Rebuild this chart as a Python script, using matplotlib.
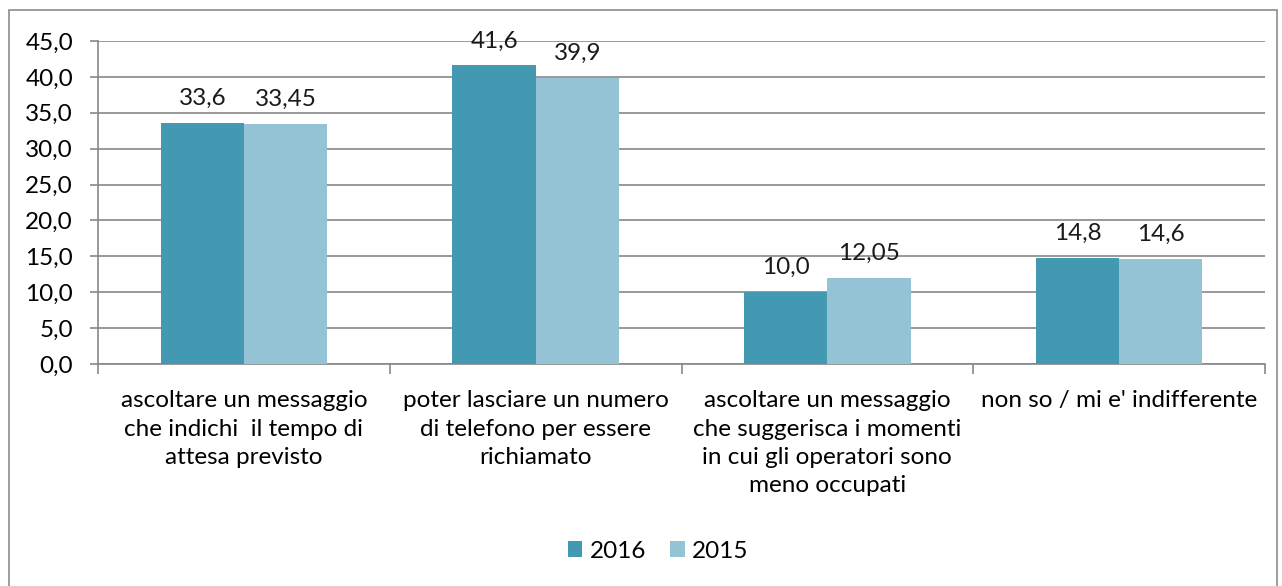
import matplotlib.pyplot as plt
import numpy as np
from matplotlib.patches import Rectangle

categories = ["ascoltare un messaggio\nche indichi  il tempo di\nattesa previsto",
              "poter lasciare un numero\ndi telefono per essere\nrichiamato",
              "ascoltare un messaggio\nche suggerisca i momenti\nin cui gli operatori sono\nmeno occupati",
              "non so / mi e' indifferente"]
values_2016 = [33.6, 41.6, 10.0, 14.8]
values_2015 = [33.45, 39.9, 12.05, 14.6]
labels_2016 = ["33,6", "41,6", "10,0", "14,8"]
labels_2015 = ["33,45", "39,9", "12,05", "14,6"]
yticks = np.arange(0, 50, 5)

plt.rcParams['font.family'] = ['Lato', 'DejaVu Sans']
fs = 17.5
c16 = '#4399B1'
c15 = '#93C3D5'
grid_c = '#878787'

fig = plt.figure(figsize=(12.82, 5.86), dpi=100)
fig.patches.append(Rectangle((9/1282, -0.01), 1268/1282, 1 - 10/586 + 0.01,
                             transform=fig.transFigure, fill=False,
                             edgecolor='#8c8c8c', linewidth=1.2))
ax = fig.add_axes([98/1282, 1 - 364/586, 1167/1282, 323/586])

x = np.arange(len(categories))
w = 0.285
b1 = ax.bar(x - w/2, values_2016, w, color=c16, label='2016', zorder=3)
b2 = ax.bar(x + w/2, values_2015, w, color=c15, label='2015', zorder=3)

for bars, labs in ((b1, labels_2016), (b2, labels_2015)):
    for r, t in zip(bars, labs):
        ax.annotate(t, (r.get_x() + r.get_width()/2, r.get_height()),
                    xytext=(0, 10), textcoords='offset points',
                    ha='center', va='bottom', fontsize=fs, color='#1a1a1a')

ax.set_ylim(0, 45)
ax.set_xlim(-0.5, len(categories) - 0.5)
ax.set_yticks(yticks)
ax.set_yticklabels([f"{v:.1f}".replace('.', ',') for v in yticks], fontsize=fs)
ax.yaxis.grid(True, color=grid_c, linewidth=1.2, zorder=0)
ax.tick_params(axis='y', length=6, width=1.2, color=grid_c, pad=12)

ax.set_xticks(np.arange(-0.5, len(categories), 1))
ax.set_xticklabels([])
ax.set_xticks(x, minor=True)
ax.set_xticklabels(categories, minor=True, fontsize=fs, linespacing=1.42)
ax.tick_params(axis='x', which='major', length=7, width=1.2, color=grid_c, direction='out')
ax.tick_params(axis='x', which='minor', length=0, pad=19)
for lab in ax.get_xticklabels(minor=True):
    lab.set_verticalalignment('top')

for s in ['top', 'right']:
    ax.spines[s].set_visible(False)
for s in ['left', 'bottom']:
    ax.spines[s].set_color(grid_c)
    ax.spines[s].set_linewidth(1.2)

fig.legend(handles=[b1, b2], loc='center', bbox_to_anchor=(658/1282, 1 - 551/586),
           ncol=2, frameon=False, fontsize=fs, handlelength=0.6, handleheight=0.6,
           handletextpad=0.3, columnspacing=1.0)

fig.savefig('out.png', dpi=100)
